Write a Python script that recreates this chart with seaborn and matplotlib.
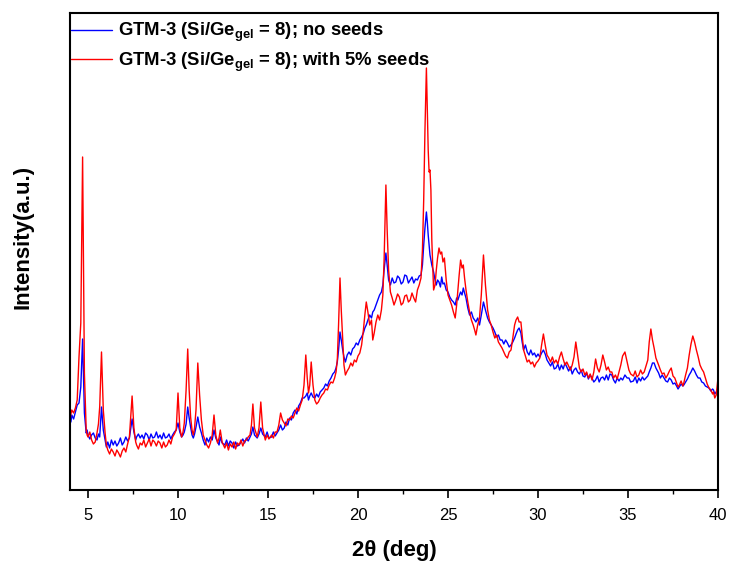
import numpy as np
import pandas as pd
import matplotlib
matplotlib.use("Agg")
import matplotlib.pyplot as plt
import seaborn as sns
from matplotlib.ticker import MultipleLocator

two_theta = [
    4.0, 4.05, 4.1, 4.2, 4.3, 4.4, 4.5, 4.6, 4.7, 4.8, 4.9, 4.95, 5.0, 5.1, 5.2, 5.3, 5.4, 5.5, 5.58, 5.65, 5.75, 5.85, 5.95,
    6.02, 6.1, 6.2, 6.3, 6.4, 6.5, 6.6, 6.7, 6.8, 6.9, 7.0, 7.1, 7.2, 7.3,
    7.45, 7.55, 7.65, 7.7, 7.8, 7.9, 8.0, 8.1, 8.2, 8.3, 8.4, 8.5, 8.6, 8.7, 8.8, 8.9, 9.0, 9.1, 9.2, 9.3, 9.4, 9.5, 9.6, 9.7, 9.8, 9.9,
    10.0, 10.1, 10.2, 10.28, 10.35, 10.45, 10.54, 10.62, 10.7, 10.78, 10.85, 10.92, 11.0, 11.1, 11.2, 11.3, 11.4, 11.5, 11.6, 11.7, 11.8, 11.9,
    12.0, 12.1, 12.2, 12.28, 12.35, 12.45, 12.6, 12.7, 12.8, 12.9, 13.0, 13.1, 13.2, 13.3, 13.4, 13.5, 13.6, 13.7, 13.8, 13.9,
    14.0, 14.08, 14.16, 14.25, 14.4, 14.5, 14.6, 14.7, 14.85, 14.95, 15.05, 15.2, 15.3, 15.4, 15.5, 15.6, 15.7, 15.8, 15.9, 16.0, 16.1, 16.2, 16.3, 16.4, 16.5, 16.6, 16.7, 16.8, 16.9,
    17.0, 17.1, 17.18, 17.25, 17.32, 17.4, 17.5, 17.6, 17.7, 17.8, 17.9, 18.0, 18.1, 18.2, 18.3, 18.4, 18.5, 18.6, 18.7, 18.78, 18.85, 18.92, 19.0, 19.07, 19.15, 19.22, 19.3, 19.4, 19.5, 19.6, 19.7, 19.8, 19.9,
    20.0, 20.1, 20.2, 20.3, 20.38, 20.46, 20.55, 20.65, 20.75, 20.82, 20.9, 21.0, 21.1, 21.2, 21.3, 21.38, 21.45, 21.55, 21.62, 21.7, 21.8, 21.9,
    22.0, 22.1, 22.2, 22.3, 22.4, 22.5, 22.6, 22.7, 22.8, 22.9, 23.0, 23.1, 23.2, 23.3, 23.4, 23.5, 23.58, 23.65, 23.72, 23.8, 23.85, 23.9, 23.95,
    24.0, 24.05, 24.1, 24.2, 24.28, 24.35, 24.42, 24.5, 24.58, 24.65, 24.72, 24.8, 24.9, 25.0, 25.1, 25.2, 25.3, 25.4, 25.48, 25.55, 25.62, 25.7, 25.78, 25.85, 25.92,
    26.0, 26.1, 26.2, 26.3, 26.4, 26.48, 26.55, 26.65, 26.75, 26.85, 26.97, 27.08, 27.2, 27.3, 27.4, 27.5, 27.6, 27.7, 27.8, 27.9,
    28.0, 28.1, 28.2, 28.3, 28.4, 28.5, 28.6, 28.7, 28.78, 28.87, 28.95, 29.05, 29.12, 29.2, 29.3, 29.4, 29.5, 29.6, 29.7, 29.8, 29.9,
    30.0, 30.1, 30.2, 30.3, 30.4, 30.5, 30.6, 30.7, 30.8, 30.9, 31.0, 31.1, 31.2, 31.3, 31.4, 31.5, 31.6, 31.7, 31.8, 31.9,
    32.0, 32.1, 32.2, 32.3, 32.4, 32.5, 32.6, 32.7, 32.8, 32.9, 33.0, 33.1, 33.2, 33.3, 33.4, 33.5, 33.6, 33.7, 33.8, 33.9,
    34.0, 34.1, 34.2, 34.3, 34.4, 34.5, 34.6, 34.7, 34.83, 34.95, 35.05, 35.15, 35.3, 35.4, 35.5, 35.6, 35.7, 35.8, 35.9,
    36.0, 36.1, 36.18, 36.27, 36.36, 36.45, 36.55, 36.7, 36.8, 36.9, 37.0, 37.1, 37.2, 37.3, 37.4, 37.5, 37.6, 37.7, 37.78, 37.85, 37.95,
    38.05, 38.1, 38.2, 38.3, 38.4, 38.5, 38.6, 38.7, 38.8, 38.9, 39.0, 39.1, 39.2, 39.3, 39.4, 39.5, 39.6, 39.7, 39.75, 39.82, 39.9, 39.96, 40.0,
]

with_seeds = [
    70, 76, 80, 77, 82, 90, 133, 167, 333, 117, 60, 55, 53, 58, 50, 46, 48, 57, 66, 83, 138, 80, 57,
    45, 40, 36, 41, 38, 34, 40, 37, 33, 39, 42, 38, 46, 53,
    94, 62, 48, 45, 41, 47, 45, 50, 43, 47, 51, 44, 50, 48, 44, 49, 47, 42, 48, 43, 45, 50, 46, 53, 56, 60,
    97, 62, 53, 58, 67, 100, 141, 100, 73, 60, 55, 62, 80, 127, 95, 70, 55, 50, 45, 42, 47, 55,
    75, 55, 47, 52, 60, 48, 42, 47, 40, 46, 43, 48, 41, 47, 45, 50, 44, 49, 50, 53,
    55, 65, 86, 62, 53, 62, 88, 62, 50, 55, 51, 55, 52, 58, 58, 65, 77, 70, 67, 64, 71, 70, 74, 72, 77, 82, 79, 85, 90,
    105, 135, 112, 97, 105, 128, 105, 90, 86, 88, 92, 95, 97, 101, 100, 105, 108, 107, 112, 118, 130, 165, 212, 180, 150, 125, 115, 119, 122, 127, 124, 130, 128,
    134, 137, 145, 160, 175, 188, 178, 165, 170, 150, 157, 168, 175, 170, 180, 195, 230, 305, 260, 220, 198, 192,
    185, 190, 196, 193, 185, 187, 194, 195, 188, 190, 197, 192, 188, 200, 205, 212, 240, 290, 360, 422, 380, 340, 318,
    320, 300, 250, 200, 205, 220, 232, 242, 236, 238, 228, 232, 210, 195, 190, 185, 178, 172, 185, 200, 215, 230, 222, 225, 212,
    200, 188, 178, 170, 165, 160, 155, 165, 172, 195, 235, 205, 180, 170, 165, 158, 152, 155, 148, 145,
    142, 138, 134, 132, 138, 140, 152, 165, 170, 173, 168, 168, 155, 140, 134, 128, 130, 126, 128, 123, 127,
    129, 132, 145, 156, 145, 135, 132, 128, 133, 127, 130, 126, 133, 138, 131, 125, 128, 124, 120, 125,
    133, 148, 135, 122, 118, 121, 115, 118, 112, 116, 110, 118, 131, 122, 118, 125, 135, 128, 120, 123,
    118, 118, 112, 115, 111, 118, 125, 134, 138, 128, 120, 116, 114, 119, 113, 115, 120, 116, 118,
    124, 130, 148, 161, 150, 142, 132, 125, 120, 116, 117, 112, 115, 119, 122, 114, 112, 107, 103, 105, 109,
    104, 107, 115, 122, 135, 146, 154, 148, 140, 133, 125, 121, 118, 112, 106, 102, 100, 96, 98, 92, 95, 105, 112,
]

no_seeds = [
    73, 68, 75, 71, 78, 85, 87, 103, 151, 77, 57, 60, 55, 51, 55, 57, 52, 50, 56, 53, 83, 60, 50,
    43, 48, 42, 50, 45, 49, 44, 47, 52, 45, 48, 53, 49, 52,
    71, 58, 50, 53, 56, 52, 55, 51, 57, 55, 50, 56, 52, 53, 58, 52, 55, 51, 57, 52, 53, 56, 51, 55, 58, 60,
    67, 58, 53, 55, 58, 66, 83, 72, 63, 55, 52, 56, 63, 73, 63, 57, 50, 45, 52, 48, 53, 50,
    60, 52, 48, 45, 53, 47, 45, 50, 44, 49, 47, 42, 48, 44, 45, 48, 51, 47, 52, 49,
    53, 56, 63, 55, 52, 56, 62, 56, 53, 58, 52, 53, 58, 54, 57, 60, 65, 60, 62, 68, 65, 72, 70, 77, 80, 76, 84, 87, 92,
    92, 94, 97, 90, 94, 97, 93, 92, 96, 93, 98, 100, 102, 106, 104, 109, 112, 116, 118, 122, 128, 140, 158, 150, 140, 133, 128, 135, 138, 135, 141, 143, 147,
    145, 150, 153, 157, 162, 165, 170, 175, 172, 178, 180, 185, 190, 195, 198, 205, 220, 237, 225, 210, 205, 212,
    207, 208, 214, 212, 206, 208, 215, 214, 207, 210, 213, 207, 211, 210, 214, 215, 225, 245, 262, 278, 268, 255, 245,
    235, 230, 225, 218, 210, 205, 210, 208, 203, 213, 206, 207, 200, 198, 193, 190, 188, 185, 192, 190, 194, 198, 195, 202, 197,
    192, 182, 175, 178, 172, 170, 168, 172, 165, 175, 188, 180, 172, 168, 165, 162, 158, 153, 155, 150,
    150, 146, 150, 147, 143, 145, 148, 152, 156, 160, 162, 157, 148, 140, 145, 138, 135, 140, 135, 137, 133,
    136, 133, 137, 140, 136, 130, 127, 124, 128, 121, 122, 126, 120, 125, 121, 127, 123, 119, 123, 116,
    120, 122, 118, 116, 120, 114, 113, 117, 111, 115, 112, 108, 110, 114, 108, 112, 113, 110, 115, 110,
    116, 115, 110, 107, 112, 109, 112, 110, 115, 112, 112, 108, 109, 113, 107, 112, 109, 113, 110,
    112, 114, 118, 122, 127, 127, 122, 117, 112, 115, 112, 109, 108, 112, 110, 106, 107, 104, 101, 103, 106,
    104, 105, 108, 111, 115, 118, 122, 119, 115, 112, 112, 108, 107, 104, 103, 102, 99, 101, 100, 96, 98, 100, 100,
]

assert len(two_theta) == len(with_seeds) == len(no_seeds)

label_no = r"GTM-3 (Si/Ge$_{\mathbf{gel}}$ = 8); no seeds"
label_with = r"GTM-3 (Si/Ge$_{\mathbf{gel}}$ = 8); with 5% seeds"

df = pd.DataFrame({
    "2theta": two_theta * 2,
    "intensity": no_seeds + with_seeds,
    "sample": [label_no] * len(two_theta) + [label_with] * len(two_theta),
})

sns.set_style("ticks")
plt.rcParams["font.family"] = ["Liberation Sans", "DejaVu Sans"]
plt.rcParams["mathtext.fontset"] = "custom"
plt.rcParams["mathtext.rm"] = "Liberation Sans"
plt.rcParams["mathtext.bf"] = "Liberation Sans:bold"
plt.rcParams["text.color"] = "black"
plt.rcParams["axes.labelcolor"] = "black"
plt.rcParams["xtick.color"] = "black"
plt.rcParams["xtick.labelcolor"] = "black"

fig = plt.figure(figsize=(7.29, 5.63), dpi=100)
ax = fig.add_axes([70 / 729, 1 - 490 / 563, (718 - 70) / 729, (490 - 13) / 563])

sns.lineplot(data=df, x="2theta", y="intensity", hue="sample",
             palette={label_no: "#0000FF", label_with: "#FF0000"},
             linewidth=1.0, estimator=None, sort=False, ax=ax)

ax.set_xlim(4, 40)
ax.set_ylim(0, 477)
ax.xaxis.set_major_locator(MultipleLocator(5))
ax.xaxis.set_minor_locator(MultipleLocator(2.5))
ax.set_yticks([])
ax.tick_params(axis="x", which="major", direction="out", length=6, width=1.2, labelsize=12, pad=7,
               color="black", labelcolor="black")
ax.tick_params(axis="x", which="minor", direction="out", length=3, width=1.0, color="black")
for s in ax.spines.values():
    s.set_visible(True)
    s.set_linewidth(1.5)
    s.set_color("black")

ax.set_xlabel("2θ (deg)", fontsize=16, fontweight="bold", labelpad=12, color="black")
ax.set_ylabel("Intensity(a.u.)", fontsize=16, fontweight="bold", color="black")
ax.yaxis.set_label_coords(-0.057, 0.53)

leg = ax.legend(loc="upper left", bbox_to_anchor=(-0.002, 0.987), frameon=False,
                prop={"size": 13.3, "weight": "bold"}, handlelength=2.27,
                handletextpad=0.32, labelspacing=0.35, borderaxespad=0.0, borderpad=0.1)
for t in leg.get_texts():
    t.set_color("black")

fig.savefig("out.png", dpi=100)
